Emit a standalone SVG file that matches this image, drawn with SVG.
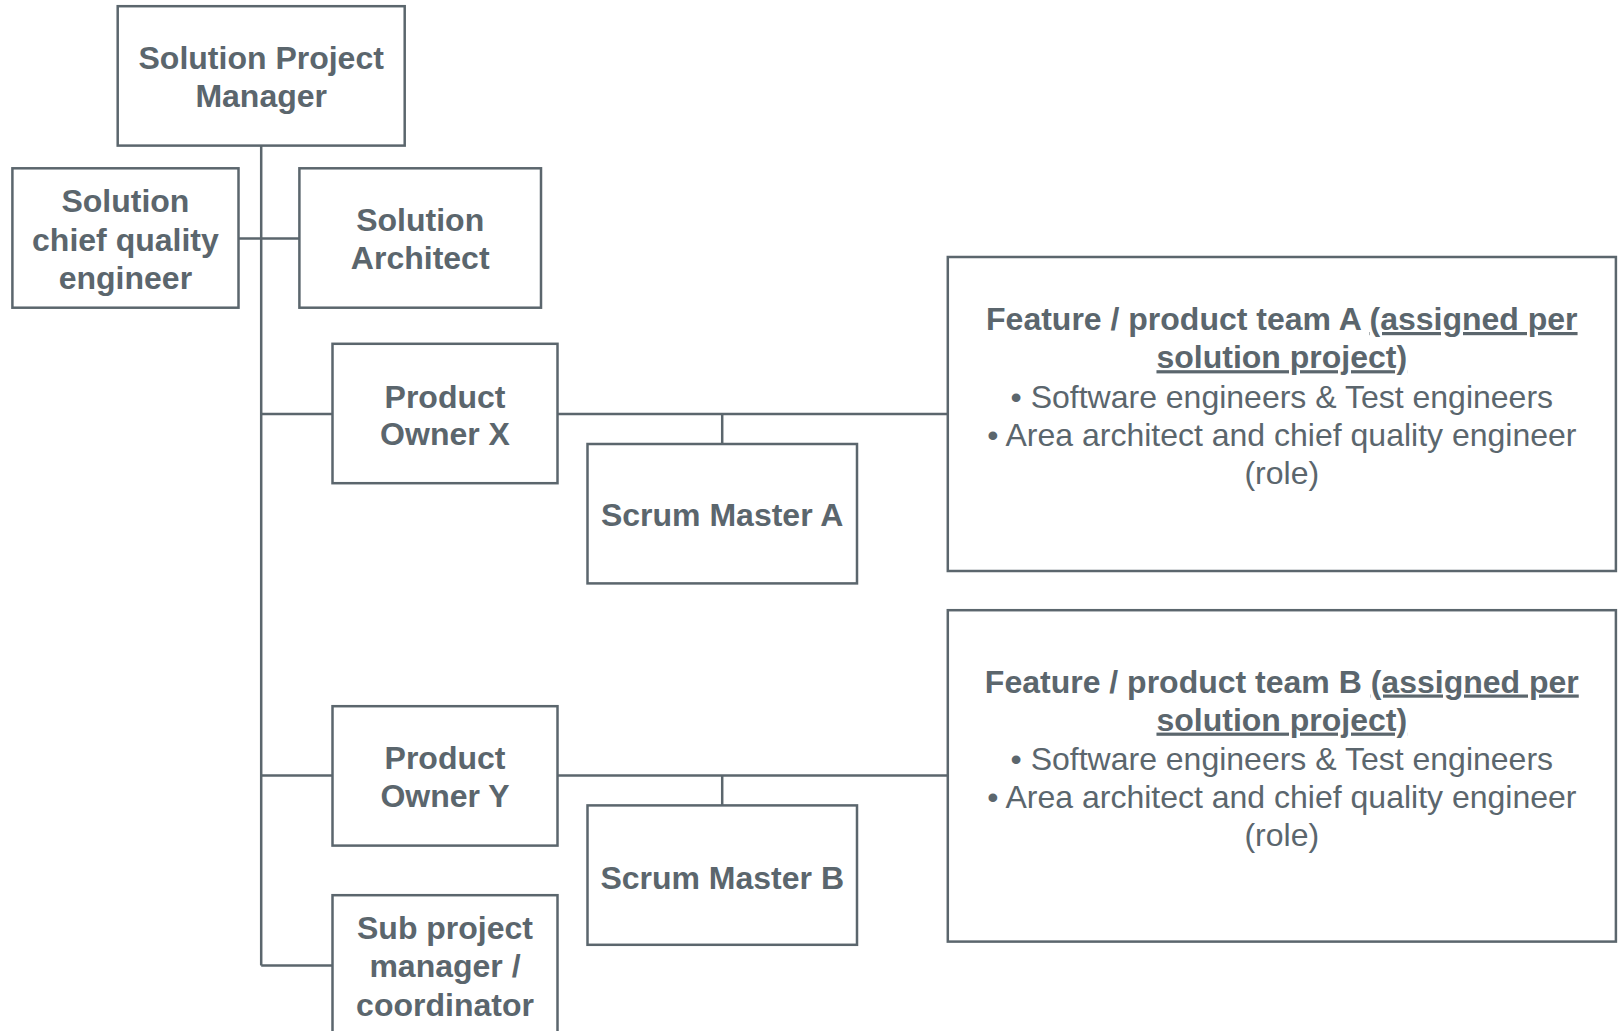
<svg xmlns="http://www.w3.org/2000/svg" width="1619" height="1031" viewBox="0 0 1619 1031">
<style>
.box{fill:#ffffff;stroke:#5b666d;stroke-width:2.5}
.ln{fill:none;stroke:#5b666d;stroke-width:2.5}
text{font-family:"Liberation Sans",Arial,sans-serif;font-size:32px;fill:#5b666d;text-anchor:middle}
.b{font-weight:bold}
.u{text-decoration:underline;text-decoration-skip-ink:none}
</style>
<rect width="1619" height="1031" fill="#ffffff"/>
<g id="connectors">
<path class="ln" d="M261.2,145.6 V965.4"/>
<path class="ln" d="M238.5,238.5 H299.4"/>
<path class="ln" d="M261.2,414 H332.5"/>
<path class="ln" d="M261.2,775.4 H332.5"/>
<path class="ln" d="M261.2,965.4 H332.5"/>
<path class="ln" d="M557.5,414 H947.8"/>
<path class="ln" d="M722.2,414 V444"/>
<path class="ln" d="M557.5,775.4 H947.8"/>
<path class="ln" d="M722.2,775.4 V805.4"/>
</g>
<g id="spm">
<rect class="box" x="117.7" y="6.2" width="287" height="139.4"/>
<text class="b" x="261.2" y="69">Solution Project</text>
<text class="b" x="261.2" y="107">Manager</text>
</g>
<g id="scqe">
<rect class="box" x="12.4" y="168.3" width="226.1" height="139.4"/>
<text class="b" x="125.4" y="212">Solution</text>
<text class="b" x="125.4" y="250.5">chief quality</text>
<text class="b" x="125.4" y="288.7">engineer</text>
</g>
<g id="sa">
<rect class="box" x="299.4" y="168.3" width="241.6" height="139.4"/>
<text class="b" x="420.2" y="231">Solution</text>
<text class="b" x="420.2" y="269">Architect</text>
</g>
<g id="pox">
<rect class="box" x="332.5" y="343.8" width="225" height="139.4"/>
<text class="b" x="445" y="407.5">Product</text>
<text class="b" x="445" y="444.6">Owner X</text>
</g>
<g id="sma">
<rect class="box" x="587.5" y="444" width="269.5" height="139.4"/>
<text class="b" x="722.2" y="526">Scrum Master A</text>
</g>
<g id="teamA">
<rect class="box" x="947.8" y="257" width="668.1" height="314"/>
<text class="b" x="1281.8" y="330">Feature / product team A <tspan class="u">(assigned per</tspan></text>
<text class="b u" x="1281.8" y="368.2">solution project)</text>
<text x="1281.8" y="407.5">• Software engineers &amp; Test engineers</text>
<text x="1281.8" y="445.7">• Area architect and chief quality engineer</text>
<text x="1281.8" y="483.9">(role)</text>
</g>
<g id="poy">
<rect class="box" x="332.5" y="706.2" width="225" height="139.4"/>
<text class="b" x="445" y="768.9">Product</text>
<text class="b" x="445" y="807">Owner Y</text>
</g>
<g id="smb">
<rect class="box" x="587.5" y="805.4" width="269.5" height="139.4"/>
<text class="b" x="722.2" y="888.6">Scrum Master B</text>
</g>
<g id="teamB">
<rect class="box" x="947.8" y="610.2" width="668.1" height="331.4"/>
<text class="b" x="1281.8" y="692.5">Feature / product team B <tspan class="u">(assigned per</tspan></text>
<text class="b u" x="1281.8" y="730.6">solution project)</text>
<text x="1281.8" y="769.9">• Software engineers &amp; Test engineers</text>
<text x="1281.8" y="808.1">• Area architect and chief quality engineer</text>
<text x="1281.8" y="846.3">(role)</text>
</g>
<g id="sub">
<rect class="box" x="332.5" y="895.2" width="225" height="150"/>
<text class="b" x="445" y="939.2">Sub project</text>
<text class="b" x="445" y="977.4">manager /</text>
<text class="b" x="445" y="1015.6">coordinator</text>
</g>
</svg>
